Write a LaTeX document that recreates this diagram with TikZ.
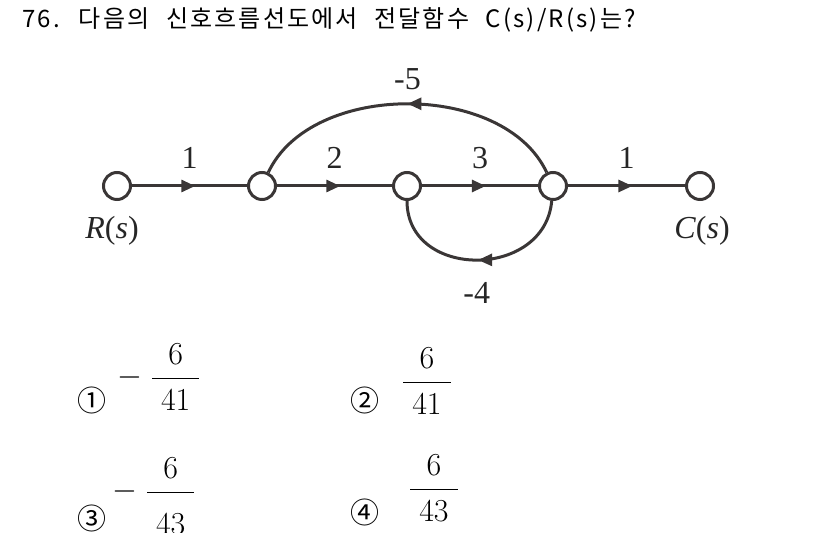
\documentclass[tikz,border=0pt]{standalone}
\usepackage{fix-cm}
\usepackage[no-math]{fontspec}
\usepackage{amsmath}
\newfontfamily\krfont{Noto Sans CJK KR}
\newfontfamily\titlefont[LetterSpace=9,WordSpace=2.2]{Noto Sans CJK KR}
\newfontfamily\gainfont{Liberation Serif}
\usetikzlibrary{arrows.meta,decorations.markings,positioning}
\definecolor{sfgline}{HTML}{3A3636}
\tikzset{
  sfgnode/.style={circle,draw=sfgline,line width=3pt,minimum size=27pt,inner sep=0pt,fill=white},
  branch/.style={draw=sfgline,line width=3pt,postaction={decorate},
    decoration={markings,mark=at position #1 with {\arrow{Triangle[length=14pt,width=12pt]}}}},
  branch/.default=0.55,
  gain/.style={font=\gainfont\fontsize{32}{32}\selectfont,text=black!85,inner sep=1pt},
  choicenum/.style={font=\krfont\fontsize{29}{29}\selectfont,inner sep=0pt},
  choice/.style={font=\fontsize{32}{32}\selectfont,inner sep=0pt,anchor=base west},
}
\begin{document}
\begin{tikzpicture}[x=1pt,y=1pt]
\useasboundingbox (0,0) rectangle (826,532);
\node[font=\titlefont\fontsize{24}{24}\selectfont,inner sep=0pt,anchor=base west] (title) at (22,504) {76. 다음의 신호흐름선도에서 전달함수 C(s)/R(s)는?};
% signal flow graph
\foreach \n/\x in {1/117,2/262,3/407,4/553,5/700}{\node[sfgnode] (n\n) at (\x,346) {};}
\node[gain,below=14pt of n1,xshift=-5pt] (rs) {\textit{R}(\textit{s})};
\node[gain,below=14pt of n5,xshift=2pt] (cs) {\textit{C}(\textit{s})};
\draw[branch] (n1)--(n2) node[gain,midway,above=15pt]{1};
\draw[branch] (n2)--(n3) node[gain,midway,above=15pt]{2};
\draw[branch] (n3)--(n4) node[gain,midway,above=15pt]{3};
\draw[branch] (n4)--(n5) node[gain,midway,above=15pt]{1};
\draw[branch=0.5] (n4) to[out=115,in=65,looseness=0.93] node[gain,above=11pt]{-5} (n2);
\draw[branch=0.5] (n4) to[out=-95,in=-90,looseness=1.4] node[gain,below=20pt]{-4} (n3);
% answer choices
\node[choicenum] (c1) at (92,132) {①};
\node[choice] (f1) at (117,146) {$-\;\dfrac{6}{\;41\rule{0pt}{29pt}\;}$};
\node[choicenum] (c2) at (365,132) {②};
\node[choice] (f2) at (402,142) {$\dfrac{6}{\;41\rule{0pt}{29pt}\;}$};
\node[choicenum] (c3) at (92,14) {③};
\node[choice] (f3) at (112,32) {$-\;\dfrac{6}{\;43\rule{0pt}{39pt}\;}$};
\node[choicenum] (c4) at (365,20) {④};
\node[choice] (f4) at (409,35) {$\dfrac{6}{\;43\rule{0pt}{29pt}\;}$};
\end{tikzpicture}
\end{document}
